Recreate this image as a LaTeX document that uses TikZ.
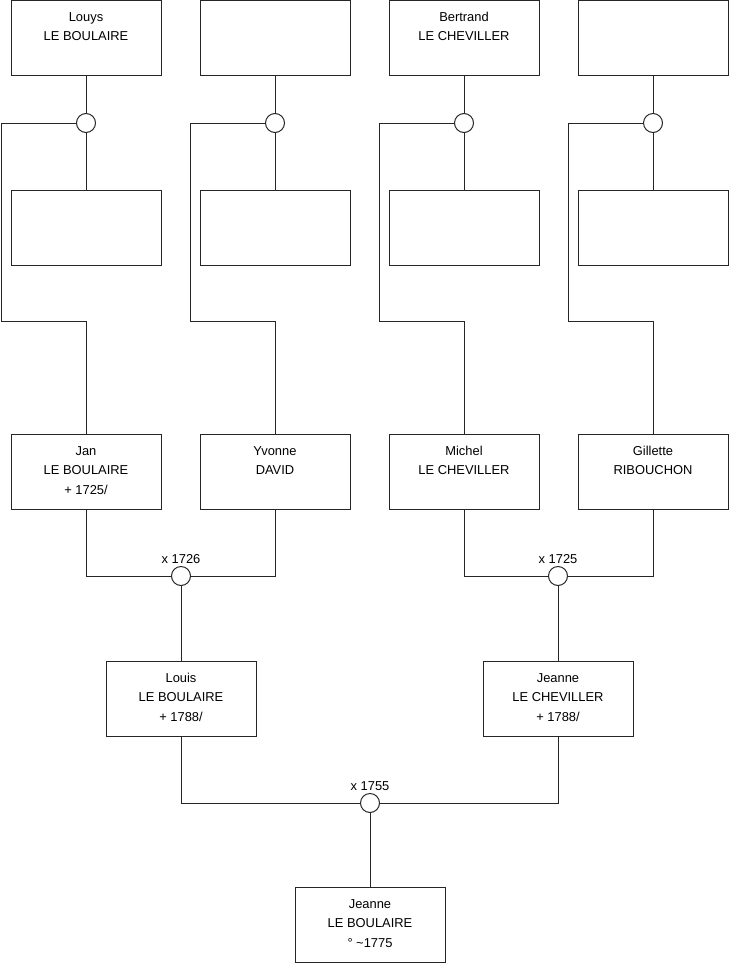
\documentclass[tikz,border=0pt]{standalone}
\usepackage{fontspec}
\setmainfont{Liberation Sans}
\usepackage{tikz}
\usetikzlibrary{positioning}
\newcommand{\who}[1]{\begin{tabular}[t]{@{}c@{}}#1\end{tabular}}

\begin{document}
\begin{tikzpicture}[
    x=1pt, y=-1pt,
    font=\fontsize{12.9}{19.6}\selectfont,
    person/.style={rectangle, draw=black!85, line width=1pt,
                   minimum width=150pt, minimum height=75pt,
                   inner sep=0pt, text height=20.5pt, text depth=54.5pt},
    union/.style={circle, draw=black!85, line width=1pt, fill=white,
                  minimum size=19pt, inner sep=0pt},
    link/.style={line width=1pt, black!85},
    date/.style={label={[inner sep=2pt]above:#1}}
]
\useasboundingbox (0,0) rectangle (740,975);

% Oldest generation
\node[person] (louys) at (86,38) {\who{Louys\\LE BOULAIRE}};
\node[person] (gp2) at (275,38) {};
\node[person] (bertrand) at (464,38) {\who{Bertrand\\LE CHEVILLER}};
\node[person] (gp4) at (653,38) {};

\node[union] (u1) at (86,123) {};
\node[union] (u2) at (275,123) {};
\node[union] (u3) at (464,123) {};
\node[union] (u4) at (653,123) {};

\node[person, below=114pt of louys] (sp1) {};
\node[person, below=114pt of gp2] (sp2) {};
\node[person, below=114pt of bertrand] (sp3) {};
\node[person, below=114pt of gp4] (sp4) {};

% Parents of the couples
\node[person] (jan) at (86,472) {\who{Jan\\LE BOULAIRE\\+ 1725/}};
\node[person] (yvonne) at (275,472) {\who{Yvonne\\DAVID}};
\node[person] (michel) at (464,472) {\who{Michel\\LE CHEVILLER}};
\node[person] (gillette) at (653,472) {\who{Gillette\\RIBOUCHON}};

\coordinate (k1) at (1,321);
\coordinate (k2) at (190,321);
\coordinate (k3) at (379,321);
\coordinate (k4) at (568,321);

% Couples
\node[union, date=x 1726] (m1) at (181,576) {};
\node[union, date=x 1725] (m2) at (558,576) {};

\node[person] (louis) at (181,699) {\who{Louis\\LE BOULAIRE\\+ 1788/}};
\node[person] (jeanne) at (558,699) {\who{Jeanne\\LE CHEVILLER\\+ 1788/}};

\node[union, date=x 1755] (m3) at (370,803) {};
\node[person] (child) at (370,925) {\who{Jeanne\\LE BOULAIRE\\\textdegree{} \textasciitilde1775}};

% Links
\draw[link] (louys) -- (u1) -- (sp1);
\draw[link] (gp2) -- (u2) -- (sp2);
\draw[link] (bertrand) -- (u3) -- (sp3);
\draw[link] (gp4) -- (u4) -- (sp4);

\draw[link] (u1.west) -| (k1) -| (jan);
\draw[link] (u2.west) -| (k2) -| (yvonne);
\draw[link] (u3.west) -| (k3) -| (michel);
\draw[link] (u4.west) -| (k4) -| (gillette);

\draw[link] (jan) |- (m1) -| (yvonne);
\draw[link] (michel) |- (m2) -| (gillette);
\draw[link] (m1) -- (louis);
\draw[link] (m2) -- (jeanne);

\draw[link] (louis) |- (m3) -| (jeanne);
\draw[link] (m3) -- (child);

\end{tikzpicture}
\end{document}
